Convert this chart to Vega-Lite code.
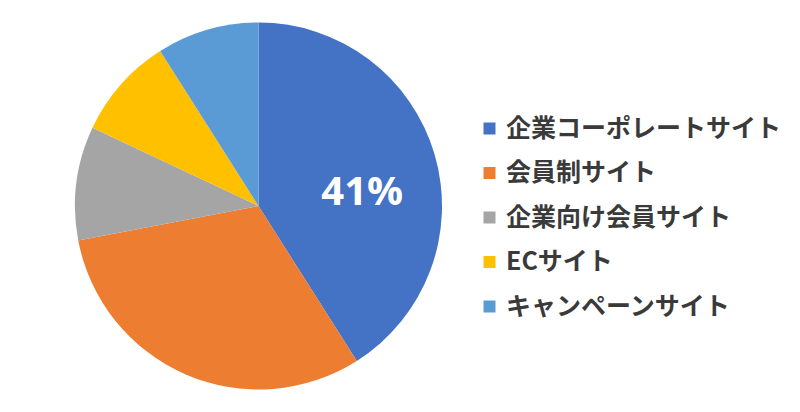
{
  "$schema": "https://vega.github.io/schema/vega-lite/v6.json",
  "width": 517,
  "height": 412,
  "padding": 0,
  "background": "white",
  "data": {
    "values": [
      {"category": "企業コーポレートサイト", "pct": 41, "order": 1, "label": "41%"},
      {"category": "会員制サイト", "pct": 31, "order": 2, "label": ""},
      {"category": "企業向け会員サイト", "pct": 10, "order": 3, "label": ""},
      {"category": "ECサイト", "pct": 9, "order": 4, "label": ""},
      {"category": "キャンペーンサイト", "pct": 9, "order": 5, "label": ""}
    ]
  },
  "encoding": {
    "theta": {"field": "pct", "type": "quantitative", "stack": true},
    "order": {"field": "order", "type": "quantitative"}
  },
  "layer": [
    {
      "mark": {"type": "arc", "radius": 183.5},
      "encoding": {
        "color": {
          "field": "category",
          "type": "nominal",
          "scale": {
            "domain": ["企業コーポレートサイト", "会員制サイト", "企業向け会員サイト", "ECサイト", "キャンペーンサイト"],
            "range": ["#4472C4", "#ED7D31", "#A5A5A5", "#FFC000", "#5B9BD5"]
          },
          "legend": {
            "title": null,
            "orient": "none",
            "legendX": 477,
            "legendY": 116,
            "padding": 0,
            "symbolType": "square",
            "symbolSize": 144,
            "symbolStrokeWidth": 0,
            "labelFont": "Noto Sans CJK JP",
            "labelFontSize": 25,
            "labelFontWeight": "bold",
            "labelColor": "#3a3a3a",
            "labelOffset": 4,
            "rowPadding": 18.5,
            "labelLimit": 400
          }
        }
      }
    },
    {
      "mark": {
        "type": "text",
        "radius": 108,
        "dy": 17,
        "font": "Open Sans",
        "fontSize": 40,
        "fontWeight": "bold",
        "fill": "white",
        "baseline": "middle",
        "align": "center"
      },
      "encoding": {
        "text": {"field": "label", "type": "nominal"}
      }
    }
  ],
  "config": {"view": {"stroke": null}}
}
